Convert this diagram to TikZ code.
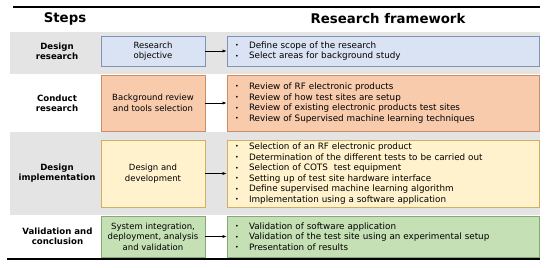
\documentclass[tikz,border=0pt]{standalone}
\usepackage{fontspec}
\setmainfont{DejaVu Sans}
\usetikzlibrary{arrows.meta}
\definecolor{bandgrey}{HTML}{E4E4E4}
\definecolor{bluefill}{HTML}{DAE3F3}
\definecolor{blueline}{HTML}{7F93B5}
\definecolor{orangefill}{HTML}{F8CBAD}
\definecolor{orangeline}{HTML}{CC8C66}
\definecolor{yellowfill}{HTML}{FFF2CC}
\definecolor{yellowline}{HTML}{CFB063}
\definecolor{greenfill}{HTML}{C5E0B4}
\definecolor{greenline}{HTML}{86A873}
\newcommand\bul{\makebox[14pt][l]{\raisebox{0.6pt}{\scalebox{0.7}{\textbullet}}}}
\begin{document}
\begin{tikzpicture}[x=1pt,y=-1pt,
  lbox/.style={draw, line width=0.8pt, minimum width=104pt, inner sep=1pt, align=center,
    font=\fontsize{8.5}{10.4}\selectfont},
  rbox/.style={draw, line width=0.8pt, text width=296pt, inner xsep=8pt, inner ysep=1pt, align=left,
    font=\fontsize{8.8}{10.6}\selectfont},
  steplabel/.style={align=center, font=\bfseries\fontsize{8.6}{10.2}\selectfont},
  header/.style={font=\bfseries\fontsize{13.3}{15}\selectfont},
  conn/.style={-{Latex[length=4pt,width=3.2pt]}, line width=0.6pt}]
\useasboundingbox (0,0) rectangle (550,268);
% grey bands
\fill[bandgrey] (10,32) rectangle (540,74);
\fill[bandgrey] (10,132) rectangle (540,215);
% rules
\draw[line width=1.5pt] (13,7) -- (540,7);
\draw[line width=2pt] (7,259) -- (540,259);
% headers
\node[header] (hsteps) at (65,19) {Steps};
\node[header] (hframe) at (388,19) {Research framework};
% step labels
\node[steplabel] (s1) at (57,51) {Design\\research};
\node[steplabel] (s2) at (57,103) {Conduct\\research};
\node[steplabel] (s3) at (57,173.5) {Design\\implementation};
\node[steplabel] (s4) at (57.5,236.5) {Validation and\\conclusion};
% left boxes
\node[lbox, fill=bluefill, draw=blueline, minimum height=30pt] (l1) at (153,51) {Research\\objective};
\node[lbox, fill=orangefill, draw=orangeline, minimum height=56pt] (l2) at (153,103) {Background review\\and tools selection};
\node[lbox, fill=yellowfill, draw=yellowline, minimum height=67pt] (l3) at (153,173.5) {Design and\\development};
\node[lbox, fill=greenfill, draw=greenline, minimum height=41pt] (l4) at (153,236.5) {System integration,\\deployment, analysis\\and validation};
% right boxes
\node[rbox, fill=bluefill, draw=blueline, minimum height=30pt] (r1) at (383,51)
  {\bul Define scope of the research\\\bul Select areas for background study};
\node[rbox, fill=orangefill, draw=orangeline, minimum height=56pt] (r2) at (383,103)
  {\bul Review of RF electronic products\\\bul Review of how test sites are setup\\\bul Review of existing electronic products test sites\\\bul Review of Supervised machine learning techniques};
\node[rbox, fill=yellowfill, draw=yellowline, minimum height=67pt] (r3) at (383,173.5)
  {\bul Selection of an RF electronic product\\\bul Determination of the different tests to be carried out\\\bul Selection of COTS~ test equipment\\\bul Setting up of test site hardware interface\\\bul Define supervised machine learning algorithm\\\bul Implementation using a software application};
\node[rbox, fill=greenfill, draw=greenline, minimum height=41pt] (r4) at (383,236.5)
  {\bul Validation of software application\\\bul Validation of the test site using an experimental setup\\\bul Presentation of results};
% connectors
\draw[conn] (l1) -- (r1);
\draw[conn] (l2) -- (r2);
\draw[conn] (l3) -- (r3);
\draw[conn] (l4) -- (r4);
\end{tikzpicture}
\end{document}
